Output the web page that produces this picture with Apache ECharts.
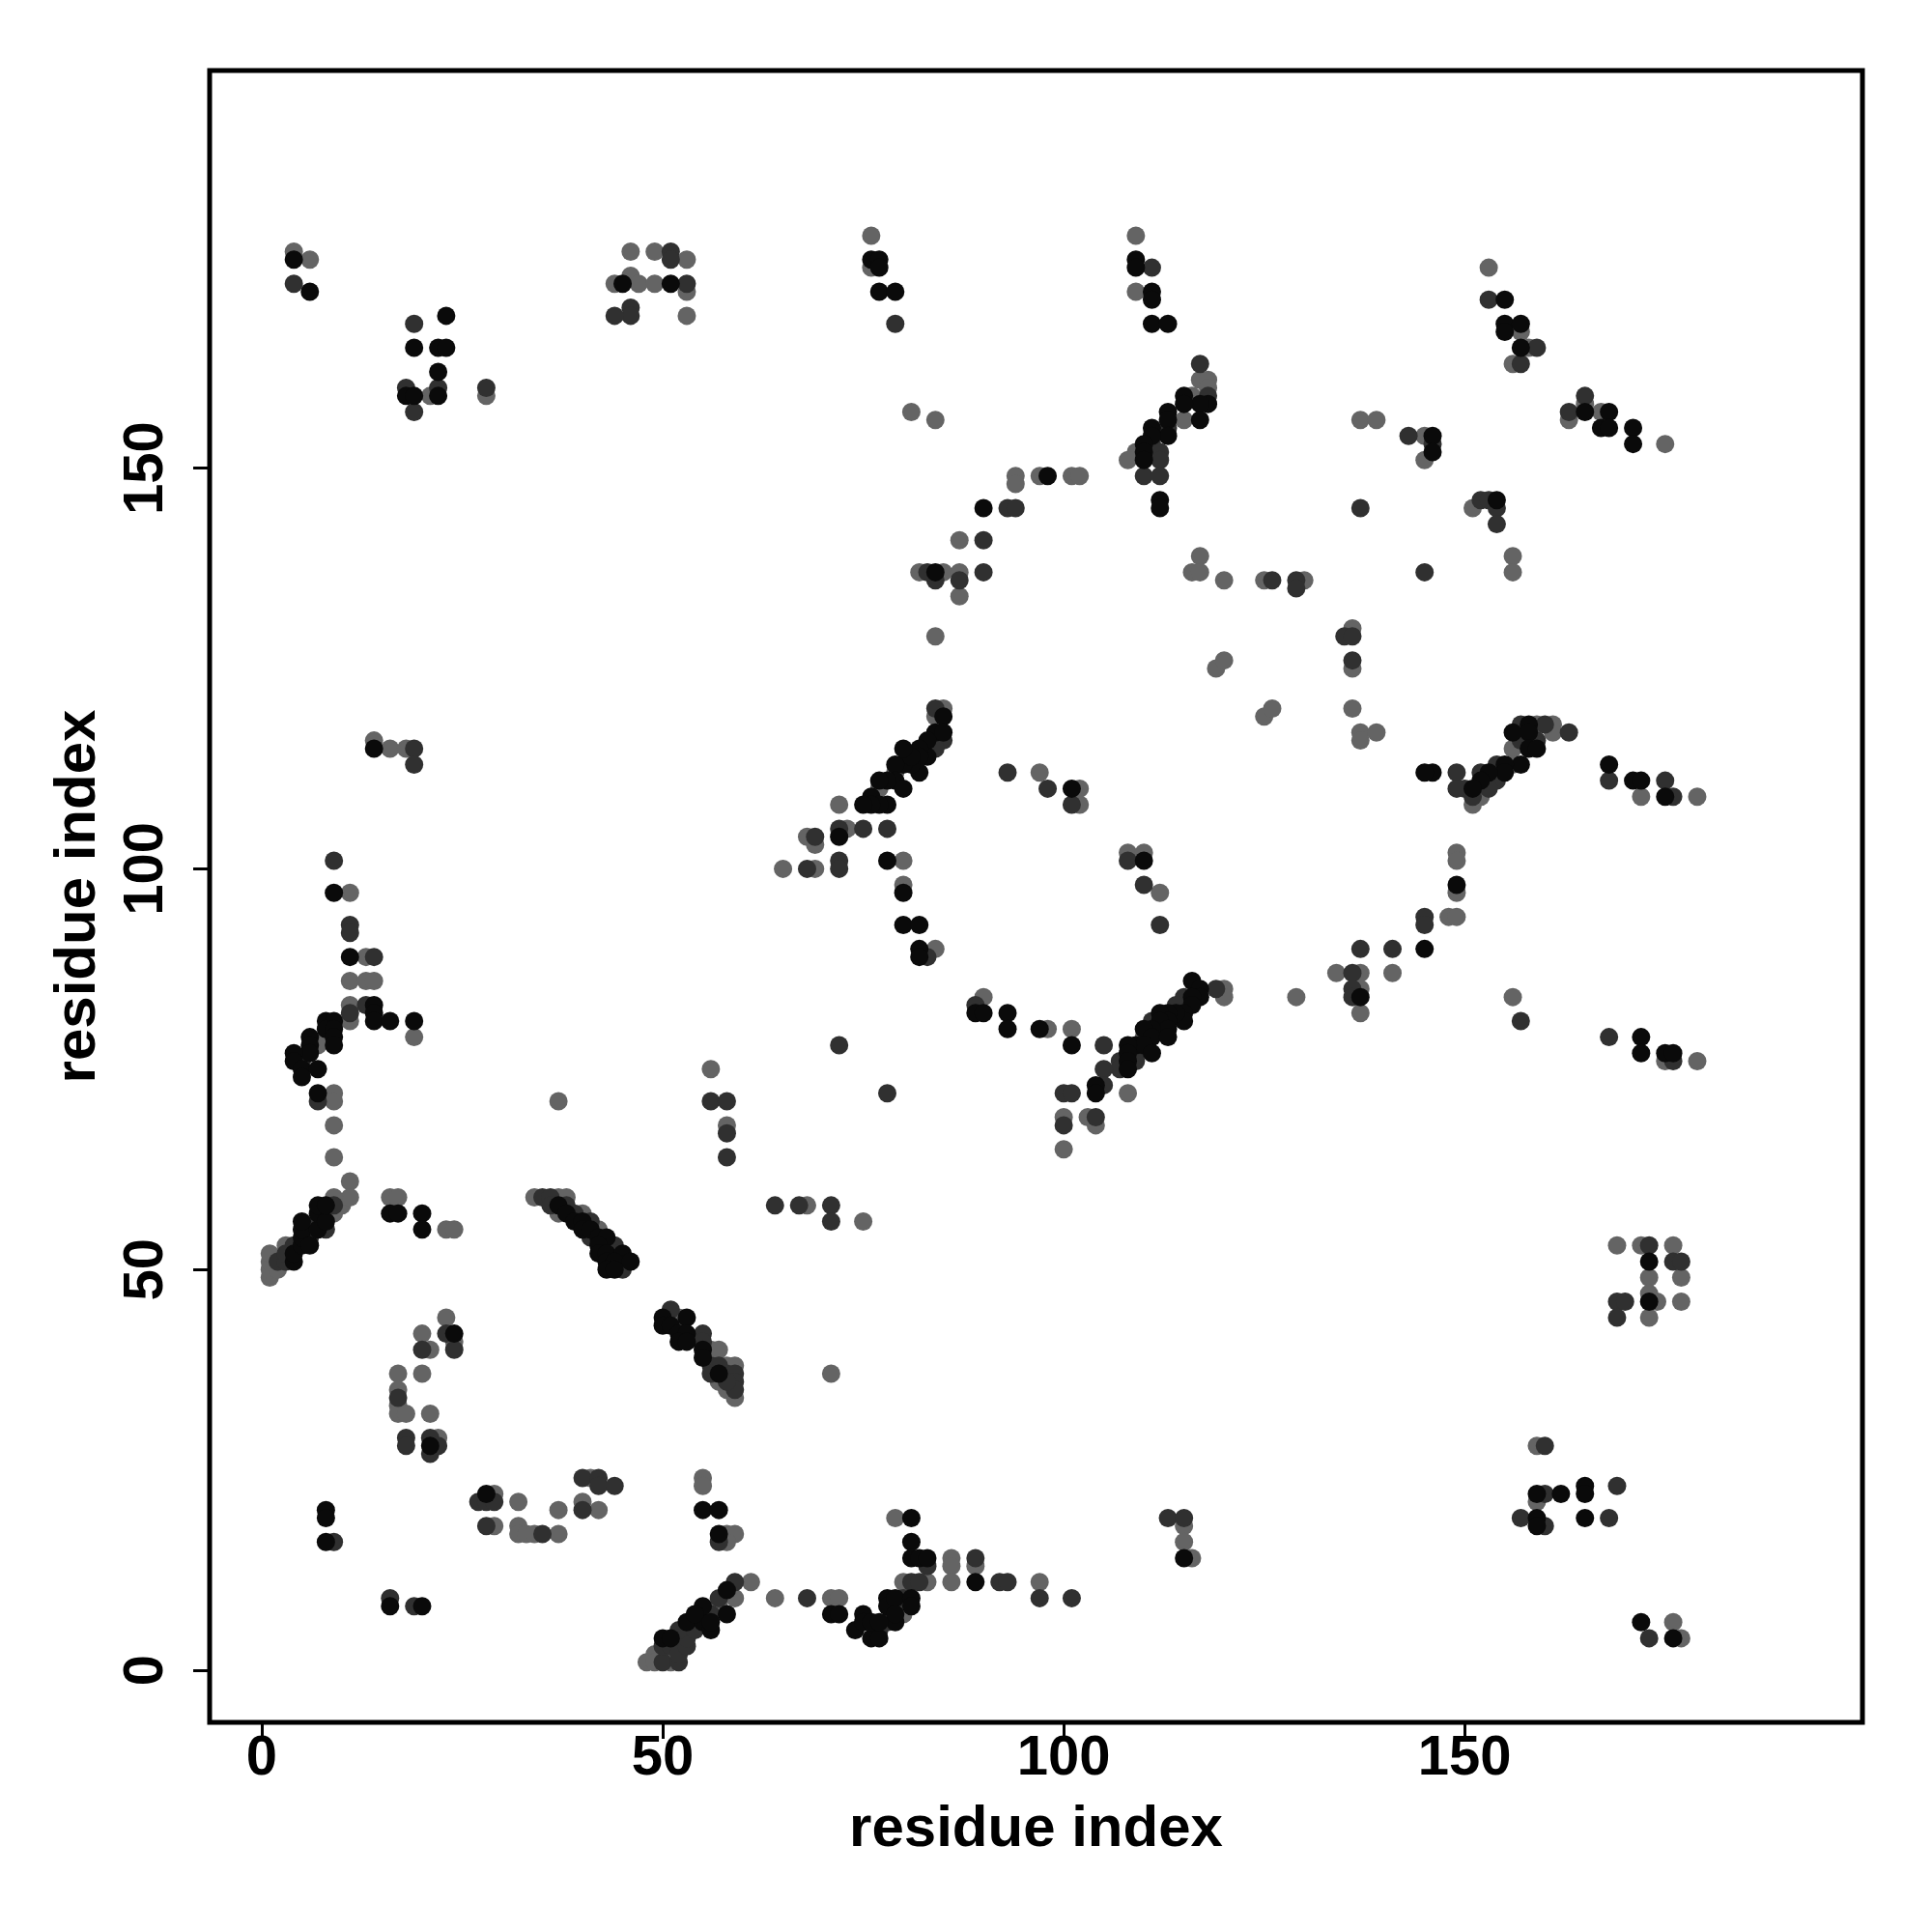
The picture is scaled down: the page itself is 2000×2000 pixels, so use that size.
<!DOCTYPE html>
<html>
<head>
<meta charset="utf-8">
<script src="https://cdn.jsdelivr.net/npm/echarts@6/dist/echarts.min.js"></script>
<style>html,body{margin:0;padding:0;background:#fff}#c{width:2000px;height:2000px}</style>
</head>
<body>
<div id="c"></div>
<script>
// tick labels
const tickValues = [0, 50, 100, 150];
const axisTitleX = 'residue index';
const axisTitleY = 'residue index';

// contacts drawn in black
const blackPoints = [
[4,176],[6,172],[23,169],[19,165],[22,165],[23,165],[22,162],[18,159],[19,159],[22,159],
[45,173],[51,173],[76,176],[77,176],[77,175],[77,172],[79,172],[90,145],[84,137],
[109,176],[109,175],[111,172],[111,171],[111,168],[113,168],[118,158],[115,159],[117,158],[117,156],[115,158],[113,157],[113,156],[113,154],[111,155],[111,154],[110,153],[110,152],[110,151],[112,146],[112,145],[98,149],
[155,171],[155,168],[155,167],[157,168],[157,165],[165,157],[168,157],[167,155],[168,155],[171,155],[171,153],[146,154],[146,152],[154,146],
[14,115],[9,97],[11,89],[14,83],[14,82],[14,81],[16,81],[19,81],[8,81],[9,81],[8,80],[9,80],[9,79],[9,78],[6,79],[6,78],[6,77],[4,77],[4,76],[5,75],[7,75],[5,74],[7,72],
[4,51],[4,52],[5,53],[5,54],[5,55],[5,56],[6,53],[7,55],[7,57],[7,58],[8,56],[8,58],[16,57],[17,57],[20,57],[20,55],
[37,58],[38,57],[39,56],[40,56],[40,55],[41,55],[42,54],[43,54],[42,53],[42,52],[43,52],[45,52],[43,51],[44,51],[46,51],[43,50],[44,50],
[24,42],[21,28],[28,22],[8,20],[8,19],[8,16],[16,8],[20,8],
[50,44],[53,44],[50,43],[51,43],[52,42],[53,42],[52,41],[53,41],[55,40],[55,39],[57,37],[55,20],[57,20],[57,17],[81,19],[81,16],[81,14],[82,14],[83,14],[89,11],[71,7],[72,7],
[50,4],[51,4],[53,6],[55,6],[55,8],[56,5],[58,10],[58,7],[54,7],[56,6],
[74,5],[75,7],[75,6],[76,4],[77,4],[76,6],[78,9],[78,8],[79,9],[79,6],[81,9],[81,8],[79,7],[77,6],
[115,14],
[173,51],[173,46],[159,22],[162,22],[165,23],[165,22],[159,19],[159,18],[165,19],[172,6],[176,4],
[85,119],[84,117],[85,117],[83,116],[83,114],[82,115],[82,114],[82,112],[81,113],[80,113],[79,113],[79,111],[80,110],[78,111],[77,111],[76,109],[78,108],[77,108],[76,108],[75,108],[81,114],[80,115],[72,104],[78,101],[80,97],[80,93],[82,93],[82,90],[82,89],[89,82],[90,82],
[101,110],[110,101],[116,86],[117,85],[117,84],[116,84],[116,83],[115,82],[115,81],[114,82],[113,82],[112,82],[113,81],[112,81],[113,80],[111,80],[110,80],[111,79],[113,79],[109,78],[110,78],[108,78],[111,77],[108,77],[108,76],[108,75],[93,82],[93,80],[97,80],[101,78],[104,73],[104,72],[137,84],
[156,117],[158,118],[158,117],[158,115],[159,115],[157,113],[155,113],[155,112],[153,112],[152,111],[151,110],[146,112],[145,112],[168,113],[171,111],[172,111],[175,109],[149,98],[145,90],[172,79],[172,77],[175,77],[176,77]
];

// contacts drawn in dark grey
const darkPoints = [
[4,173],[19,168],[18,160],[22,160],[19,157],[28,160],
[51,177],[51,176],[53,173],[46,170],[46,169],[44,169],[79,168],[93,145],[94,145],[90,141],[84,136],[87,136],[90,137],[83,137],[84,120],
[111,175],[117,163],[118,159],[113,155],[111,153],[112,152],[112,151],[110,149],[112,149],[137,145],[126,136],[129,136],[129,135],[135,129],[136,129],[136,126],
[153,171],[159,165],[157,163],[165,159],[163,157],[143,154],[146,153],[152,146],[153,146],[154,145],[154,143],[145,137],
[19,115],[19,113],[9,101],[11,93],[11,92],[14,89],[11,82],[13,83],[5,76],[7,71],
[2,51],[3,51],[3,52],[4,53],[6,54],[7,56],[8,55],[9,58],
[35,59],[36,59],[36,58],[38,58],[39,57],[41,56],[41,54],[43,53],[44,53],[44,52],[45,50],
[23,42],[24,40],[20,40],[17,34],[18,29],[18,28],[21,29],[22,28],[21,27],[27,21],[28,21],[29,21],[28,18],[35,17],[40,24],[42,24],[42,23],[44,23],[40,20],[9,16],[16,9],[19,8],
[64,58],[67,58],[71,58],[71,56],[51,45],[55,42],[55,41],[56,38],[57,38],[56,37],[58,37],[59,37],[59,36],[59,35],[58,36],[57,16],[83,13],[89,14],[81,11],[82,11],[68,9],
[50,1],[52,1],[50,3],[51,3],[52,2],[53,3],[53,4],[52,5],[54,5],[56,7],[57,9],[59,11],
[77,5],[80,9],[78,6],
[113,19],[115,19],[92,11],[93,11],[97,9],[101,9],
[173,53],[176,51],[177,51],[169,46],[170,46],[169,44],[160,22],[169,23],[157,19],[160,18],[168,19],[173,4],[160,28],
[85,116],[84,115],[72,105],[75,105],[78,105],[69,104],[68,100],[72,101],[72,100],[83,89],[89,83],[72,78],[56,71],[58,71],[58,67],[58,64],[78,72],
[93,112],[98,110],[101,108],[108,101],[110,98],[112,93],[119,85],[115,84],[114,83],[111,81],[109,77],[109,76],[107,76],[107,75],[105,78],[105,75],[105,73],[100,72],[101,72],[100,68],[104,69],[137,90],[136,87],[136,85],[136,84],
[157,118],[160,118],[163,117],[159,116],[157,116],[154,113],[154,111],[152,112],[153,110],[151,109],[150,110],[149,112],[149,110],[168,111],[175,111],[176,109],[145,94],[145,93],[141,90],[157,81],[168,79],[176,76]
];

// contacts drawn in mid grey
const greyPoints = [
[4,177],[6,176],[21,159],[28,159],
[46,177],[49,177],[53,176],[46,174],[47,173],[49,173],[53,172],[53,169],[44,173],[76,179],[76,175],[81,157],[84,156],[87,141],[82,137],[85,137],[87,137],[87,134],[84,129],[85,120],
[109,179],[109,172],[117,161],[118,161],[118,160],[116,159],[115,156],[109,152],[108,151],[94,149],[94,148],[97,149],[101,149],[102,149],[137,156],[117,139],[116,137],[117,137],[120,136],[125,136],[130,136],[136,130],[136,125],[119,125],[120,126],[125,119],[126,120],[136,120],
[153,175],[157,167],[158,165],[156,163],[165,158],[163,156],[167,157],[175,153],[139,156],[145,154],[145,151],[151,145],[156,139],[156,137],
[14,116],[16,115],[18,115],[11,97],[13,89],[11,86],[13,86],[14,86],[11,83],[11,81],[19,79],[8,79],[7,78],[9,72],[9,71],[9,68],[9,64],[11,61],[37,71],[16,59],[17,59],
[1,49],[1,50],[1,51],[1,52],[2,50],[3,53],[8,57],[9,57],[10,58],[11,59],[9,59],[23,55],[24,55],
[34,59],[37,59],[38,59],[37,57],[40,57],[42,55],[45,51],
[23,44],[20,42],[24,41],[21,40],[17,37],[20,37],[17,35],[17,33],[17,32],[18,32],[21,32],[22,29],[29,22],[29,18],[32,21],[32,18],[32,17],[33,17],[34,17],[37,17],[37,20],[41,24],[40,21],[42,20],
[68,58],[75,56],[52,44],[56,40],[57,40],[58,38],[59,38],[58,35],[59,34],[57,36],[71,37],[55,24],[55,23],[58,17],[59,17],[58,16],[79,19],[86,14],[86,13],[89,13],[80,11],[83,11],[86,11],[64,9],[71,9],[72,9],
[48,1],[49,2],[49,1],[51,1],[57,8],[59,9],[61,11],
[80,7],
[115,18],[115,16],[116,14],[97,11],
[169,53],[172,53],[176,53],[173,49],[177,49],[173,47],[174,46],[177,46],[173,44],[159,28],[159,21],[176,6],[177,4],
[84,119],[79,112],[77,110],[72,108],[73,105],[68,104],[69,103],[65,100],[69,100],[80,101],[80,98],[84,90],[90,84],[56,75],[58,68],
[97,112],[102,110],[102,108],[108,102],[110,102],[112,97],[120,85],[120,84],[112,80],[110,79],[98,80],[101,80],[108,72],[100,69],[103,69],[104,68],[100,65],[129,84],[134,87],[137,87],[137,85],[137,82],[137,117],[137,116],[139,117],
[159,118],[161,118],[161,117],[156,115],[156,113],[152,109],[151,108],[172,109],[179,109],[149,102],[149,101],[149,97],[148,94],[149,94],[141,87],[156,84],[175,76],[179,76]
];

const FONT = '"Liberation Sans", Arial, Helvetica, sans-serif';
const chart = echarts.init(document.getElementById('c'), null, {renderer: 'canvas'});

function axisCommon(isY) {
  return {
    type: 'value',
    min: -6.5,
    max: 199.6,
    axisLine: {show: false, onZero: false},
    splitLine: {show: false},
    axisTick: {show: true, inside: false, length: 17, customValues: tickValues, lineStyle: {color: '#000', width: 3}},
    axisLabel: {
      customValues: tickValues,
      fontSize: 58, fontWeight: 'bold', fontFamily: FONT, color: '#000',
      lineHeight: 58,
      margin: isY ? 36 : 9,
      rotate: isY ? 90 : 0
    },
    name: isY ? axisTitleY : axisTitleX,
    nameLocation: 'middle',
    nameGap: isY ? 106 : 81,
    nameRotate: isY ? 90 : 0,
    nameTextStyle: {fontSize: 60, fontWeight: 'bold', fontFamily: FONT, color: '#000', lineHeight: 60}
  };
}

function pointSeries(data, color) {
  return {
    type: 'scatter',
    data: data,
    symbol: 'circle',
    symbolSize: 19,
    itemStyle: {color: color, opacity: 1},
    emphasis: {disabled: true},
    silent: true
  };
}

chart.setOption({
  animation: false,
  backgroundColor: '#ffffff',
  grid: {left: 217, right: 72, top: 73, bottom: 217, show: true, borderColor: '#000', borderWidth: 5, backgroundColor: 'transparent'},
  xAxis: axisCommon(false),
  yAxis: axisCommon(true),
  series: [
    pointSeries(greyPoints, '#646464'),
    pointSeries(darkPoints, '#303030'),
    pointSeries(blackPoints, '#0a0a0a')
  ]
});
</script>
</body>
</html>
